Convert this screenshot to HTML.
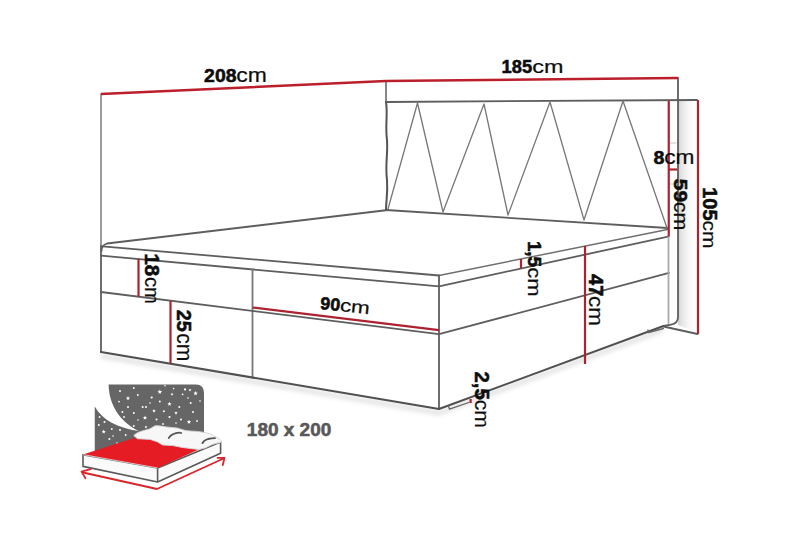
<!DOCTYPE html>
<html><head><meta charset="utf-8">
<style>
html,body{margin:0;padding:0;background:#fff;width:800px;height:533px;overflow:hidden}
svg{display:block}
text{font-family:"Liberation Sans",sans-serif;fill:#0d0d0d;color:#0d0d0d}
</style></head><body>
<svg width="800" height="533" viewBox="0 0 800 533">
<defs>
<linearGradient id="sh" x1="0" x2="1" y1="0" y2="0">
<stop offset="0" stop-color="#cfcfcf"/><stop offset="0.2" stop-color="#e4e4e4"/><stop offset="0.55" stop-color="#f6f6f6"/><stop offset="1" stop-color="#ffffff"/>
</linearGradient>
<filter id="blur" x="-10%" y="-50%" width="120%" height="200%"><feGaussianBlur stdDeviation="2"/></filter>
</defs>
<polygon points="678,101 696,101 696,332 678,325" fill="url(#sh)"/>
<g fill="none" stroke="#e4e4e4" stroke-width="5" filter="url(#blur)">
<polyline points="101,356 439,413 663,330"/>
</g>
<g fill="none" stroke="#5e5e5e" stroke-width="1.8" stroke-linejoin="round" stroke-linecap="round">
<polyline points="101,94 101,246" stroke="#7a7a7a" stroke-width="1.5"/>
<polyline points="101,246 101,352"/>
<polyline points="386,81 386,102" stroke="#6a6a6a" stroke-width="1.6"/>
<path d="M386,102 C388,115 385,125 387,140 C388,155 385,165 387,180 C388,195 386,200 386,210" stroke="#555" stroke-width="2"/>
<polyline points="386,102 697,100"/>
<path d="M678,78 L678,317 Q678,323.5 671,324.6 L663.5,326"/>
<polyline points="663.5,326.5 697.5,334"/>
<polyline points="386,210 667.5,228"/>
<polyline points="388,209 417.5,103 443,212 484,104 508,215 550,102 584,220 623,101 667,228" stroke-width="1.3" stroke="#777"/>
<path d="M101.5,251 Q101.5,245 107,243.5 L388,210"/>
<path d="M102.5,246.3 L439,275.5"/>
<polyline points="439,275.5 667.5,229.5" stroke="#707070" stroke-width="1.5"/>
<polyline points="101,255.7 439,286.3 668,236.6"/>
<polyline points="439,275.5 439,409"/>
<polyline points="252.5,269.5 252.5,377.5" stroke="#777"/>
<polyline points="101,292 439,334.2 669,272.9"/>
<polyline points="101,352 439,409 663.5,326" stroke="#505050" stroke-width="2"/>
<polyline points="668.5,237 668.5,323" stroke="#aaa"/>
<path d="M448.5,406 L449.5,409.2 L468.8,402.5" stroke="#666" stroke-width="1.3"/>
<path d="M648,330 L648.5,332.5 L663.5,328.5" stroke="#666" stroke-width="1.3"/>
<line x1="670" y1="143" x2="676" y2="143" stroke="#bbb" stroke-width="0.8"/>
<line x1="670" y1="184" x2="676" y2="184" stroke="#bbb" stroke-width="0.8"/>
</g>
<g fill="none" stroke="#ad2230" stroke-width="2.2">
<polyline points="101,94 386,81 678,78" stroke="#bb1f2b" stroke-width="2.4"/>
<line x1="138.5" y1="259" x2="138.5" y2="296.7"/>
<line x1="170.5" y1="301" x2="170.5" y2="363"/>
<line x1="252.5" y1="307.5" x2="439" y2="330.2"/>
<line x1="521" y1="259" x2="521" y2="268.5"/>
<line x1="585" y1="246" x2="585" y2="364"/>
<line x1="470.6" y1="399" x2="470.6" y2="403"/>
<line x1="668.75" y1="101" x2="668.75" y2="236.6"/>
<line x1="669" y1="169.5" x2="677" y2="169.5"/>
<line x1="698" y1="100" x2="698" y2="334"/>
</g>

<g id="icon">
<path d="M94.75,384.5 L196,384.5 Q204,384.5 204,393 L204,445 L94.75,455 Z" fill="#666"/>
<path d="M88,378 L108.6,378 L108.6,384.5 C109,405 120,422 138.7,431 C118,428 102,420 94.75,406.5 L88,406.5 Z" fill="#fff"/>
<g fill="#fff"><polygon points="159.80,389.40 160.43,390.93 162.08,391.06 160.83,392.13 161.21,393.74 159.80,392.88 158.39,393.74 158.77,392.13 157.52,391.06 159.17,390.93"/><polygon points="128.00,396.10 128.58,397.50 130.09,397.62 128.94,398.61 129.29,400.08 128.00,399.29 126.71,400.08 127.06,398.61 125.91,397.62 127.42,397.50"/><polygon points="195.60,391.10 196.21,392.56 197.79,392.69 196.58,393.72 196.95,395.26 195.60,394.44 194.25,395.26 194.62,393.72 193.41,392.69 194.99,392.56"/><polygon points="169.50,401.80 170.08,403.20 171.59,403.32 170.44,404.31 170.79,405.78 169.50,404.99 168.21,405.78 168.56,404.31 167.41,403.32 168.92,403.20"/><polygon points="145.00,415.50 145.61,416.96 147.19,417.09 145.98,418.12 146.35,419.66 145.00,418.84 143.65,419.66 144.02,418.12 142.81,417.09 144.39,416.96"/><polygon points="189.00,419.70 189.58,421.10 191.09,421.22 189.94,422.21 190.29,423.68 189.00,422.89 187.71,423.68 188.06,422.21 186.91,421.22 188.42,421.10"/><polygon points="154.00,409.10 154.50,410.31 155.81,410.41 154.81,411.26 155.12,412.54 154.00,411.86 152.88,412.54 153.19,411.26 152.19,410.41 153.50,410.31"/><polygon points="103.70,429.60 104.26,430.94 105.70,431.05 104.60,431.99 104.93,433.40 103.70,432.64 102.47,433.40 102.80,431.99 101.70,431.05 103.14,430.94"/><polygon points="176.00,411.20 176.48,412.34 177.71,412.44 176.77,413.25 177.06,414.46 176.00,413.81 174.94,414.46 175.23,413.25 174.29,412.44 175.52,412.34"/><polygon points="172.00,392.70 172.42,393.72 173.52,393.81 172.68,394.52 172.94,395.59 172.00,395.02 171.06,395.59 171.32,394.52 170.48,393.81 171.58,393.72"/><polygon points="146.00,425.40 146.42,426.42 147.52,426.51 146.68,427.22 146.94,428.29 146.00,427.72 145.06,428.29 145.32,427.22 144.48,426.51 145.58,426.42"/><polygon points="190.00,388.40 190.42,389.42 191.52,389.51 190.68,390.22 190.94,391.29 190.00,390.72 189.06,391.29 189.32,390.22 188.48,389.51 189.58,389.42"/><circle cx="120" cy="391" r="1"/><circle cx="133.8" cy="388" r="0.9"/><circle cx="137.8" cy="395" r="0.9"/><circle cx="151.7" cy="397.5" r="1.1"/><circle cx="173.6" cy="388.6" r="0.8"/><circle cx="185" cy="389.4" r="1.1"/><circle cx="182.6" cy="394.3" r="0.9"/><circle cx="119" cy="401.6" r="0.9"/><circle cx="128" cy="407" r="1"/><circle cx="142.7" cy="407" r="1"/><circle cx="146" cy="407" r="1"/><circle cx="159.8" cy="401.6" r="1"/><circle cx="179.3" cy="407" r="1"/><circle cx="190.7" cy="403" r="1"/><circle cx="122.4" cy="412" r="1"/><circle cx="133.8" cy="413" r="1"/><circle cx="163.9" cy="411.3" r="1"/><circle cx="193" cy="412" r="1"/><circle cx="124" cy="417" r="0.9"/><circle cx="156.5" cy="419.5" r="1"/><circle cx="169.5" cy="417" r="1.1"/><circle cx="181" cy="419.5" r="1"/><circle cx="197" cy="421" r="0.9"/><circle cx="99.6" cy="417" r="0.9"/><circle cx="104.5" cy="422" r="1"/><circle cx="111.8" cy="429" r="0.9"/><circle cx="120" cy="430" r="1"/><circle cx="125.7" cy="435" r="0.9"/><circle cx="109.4" cy="439" r="1"/><circle cx="98.8" cy="425" r="1"/><circle cx="133.8" cy="426" r="0.9"/><circle cx="113" cy="436" r="0.8"/><circle cx="150" cy="403" r="0.8"/><circle cx="188" cy="398" r="0.8"/><circle cx="165" cy="385.8" r="0.8"/><circle cx="200" cy="401" r="0.8"/><circle cx="176" cy="423" r="0.8"/><circle cx="163" cy="424" r="0.9"/><circle cx="138" cy="420" r="0.8"/><circle cx="117" cy="443" r="0.8"/></g>
<path d="M83,454.6 L157.6,468 L220.6,442 L220.6,453.3 L157.6,482 L83,466.4 Z" fill="#fafafa" stroke="#5a5a5a" stroke-width="1.6" stroke-linejoin="round"/>
<path d="M83,454.6 L134,438 L137.5,438.75 L150,439.4 L157.5,441.9 L162.5,445 L172.5,445.6 L182.5,447.5 L192.5,448.75 L198.75,449.4 L157.6,468 Z" fill="#e51c23"/>
<line x1="83" y1="454.6" x2="157.6" y2="468" stroke="#fff" stroke-width="0.7"/>
<line x1="157.6" y1="468.5" x2="157.6" y2="482" stroke="#5a5a5a" stroke-width="1.6"/>
<path d="M133.75,435.6 C136,433 139,432 141.25,431.25 C145,430 148,429.5 150,428.75 C152.5,427.5 154,425.8 156.25,425.6 C160,425.6 163,426.7 166.25,426.9 C170,427.4 174,427.6 177.5,428.1 C181,429 183,430.1 186.25,430.6 C189,431 192,431.1 195,431.25 C199,431.6 202,432 205,432.5 C208,433.2 210.5,434 212.5,435 C215.5,436.5 218,438 220,439.4 L221.9,441.9 L212.5,444.4 L205,448.1 L198.75,449.4 L192.5,448.75 L182.5,447.5 L172.5,445.6 L162.5,445 L157.5,441.9 L150,439.4 L137.5,438.75 Z" fill="#f7f7f7" stroke="#cfcfcf" stroke-width="0.9" stroke-linejoin="round"/>
<path d="M168.75,438.1 C170,436 173,434 176,433.2 C178,432.7 180,432.5 181.25,433" fill="none" stroke="#555" stroke-width="1.8" stroke-linecap="round"/>
<path d="M202.5,443.1 C203.5,441 205,439.8 208,439 C211,438.3 213,438 215,438.1" fill="none" stroke="#555" stroke-width="1.8" stroke-linecap="round"/>
<g fill="none" stroke="#d9252b" stroke-width="1.8" stroke-linecap="round" stroke-linejoin="round">
<polyline points="83,472.5 157,489 223.5,458.5"/>
<polyline points="90.6,469.2 81.5,471.6 85.5,478.2"/>
<polyline points="217.6,457.8 224.5,457.8 222.8,465"/>
</g>
</g>
<text transform="translate(204.80,82.25) scale(1.0347,1) translate(-0.66,0)" font-size="18.79" font-weight="bold" stroke="currentColor" stroke-width="0.55">208</text>
<text transform="translate(237.20,82.25) scale(1.1803,1) translate(-0.87,0)" font-size="19.44" font-weight="normal" stroke="currentColor" stroke-width="0.2">cm</text>
<text transform="translate(502.80,72.80) scale(0.9805,1) translate(-1.22,0)" font-size="18.71" font-weight="bold" stroke="currentColor" stroke-width="0.55">185</text>
<text transform="translate(533.40,72.80) scale(1.2552,1) translate(-0.84,0)" font-size="18.61" font-weight="normal" stroke="currentColor" stroke-width="0.2">cm</text>
<text transform="translate(654.00,164.40) scale(1.0213,1) translate(-0.58,0)" font-size="19.29" font-weight="bold" stroke="currentColor" stroke-width="0.55">8</text>
<text transform="translate(665.25,164.40) scale(1.1698,1) translate(-0.87,0)" font-size="19.44" font-weight="normal" stroke="currentColor" stroke-width="0.2">cm</text>
<text transform="translate(320.50,309.00) rotate(6) translate(0.00,0.00) scale(1.0172,1) translate(-0.62,0)" font-size="17.57" font-weight="bold" stroke="currentColor" stroke-width="0.55">90</text>
<text transform="translate(320.50,309.00) rotate(6) translate(20.00,0.00) scale(1.2679,1) translate(-0.80,0)" font-size="17.78" font-weight="normal" stroke="currentColor" stroke-width="0.2">cm</text>
<text transform="translate(144.60,254.80) rotate(90) scale(1.0548,1) translate(-1.26,0)" font-size="19.43" font-weight="bold" stroke="#0d0d0d" stroke-width="0.55">18</text>
<text transform="translate(144.60,277.90) rotate(90) scale(0.9675,1) translate(-0.94,0)" font-size="20.93" font-weight="normal" stroke="#0d0d0d" stroke-width="0.2">cm</text>
<text transform="translate(176.60,310.40) rotate(90) scale(0.9452,1) translate(-0.73,0)" font-size="20.86" font-weight="bold" stroke="#0d0d0d" stroke-width="0.55">25</text>
<text transform="translate(176.60,334.10) rotate(90) scale(0.9806,1) translate(-0.97,0)" font-size="21.48" font-weight="normal" stroke="#0d0d0d" stroke-width="0.2">cm</text>
<text transform="translate(527.80,242.10) rotate(90) scale(1.0264,1) translate(-1.19,0)" font-size="18.29" font-weight="bold" stroke="#0d0d0d" stroke-width="0.55">1,5</text>
<text transform="translate(527.80,268.20) rotate(90) scale(1.2104,1) translate(-0.82,0)" font-size="18.15" font-weight="normal" stroke="#0d0d0d" stroke-width="0.2">cm</text>
<text transform="translate(589.00,274.40) rotate(90) scale(0.9952,1) translate(-0.30,0)" font-size="20.00" font-weight="bold" stroke="#0d0d0d" stroke-width="0.55">47</text>
<text transform="translate(589.00,297.10) rotate(90) scale(1.0886,1) translate(-0.92,0)" font-size="20.56" font-weight="normal" stroke="#0d0d0d" stroke-width="0.2">cm</text>
<text transform="translate(475.00,372.20) rotate(90) scale(1.0082,1) translate(-0.71,0)" font-size="20.29" font-weight="bold" stroke="#0d0d0d" stroke-width="0.55">2,5</text>
<text transform="translate(475.00,400.70) rotate(90) scale(1.0328,1) translate(-0.92,0)" font-size="20.56" font-weight="normal" stroke="#0d0d0d" stroke-width="0.2">cm</text>
<text transform="translate(674.00,179.50) rotate(90) scale(1.1408,1) translate(-0.55,0)" font-size="18.29" font-weight="bold" stroke="#0d0d0d" stroke-width="0.55">59</text>
<text transform="translate(674.00,202.80) rotate(90) scale(1.1044,1) translate(-0.87,0)" font-size="19.44" font-weight="normal" stroke="#0d0d0d" stroke-width="0.2">cm</text>
<text transform="translate(703.30,188.50) rotate(90) scale(0.9859,1) translate(-1.32,0)" font-size="20.29" font-weight="bold" stroke="#0d0d0d" stroke-width="0.55">105</text>
<text transform="translate(703.30,221.50) rotate(90) scale(1.1066,1) translate(-0.85,0)" font-size="18.89" font-weight="normal" stroke="#0d0d0d" stroke-width="0.2">cm</text>
<text transform="translate(248.10,436.25) scale(1.0107,1) translate(-1.22,0)" font-size="18.79" font-weight="bold" style="fill:#585858;color:#585858" stroke="currentColor" stroke-width="0.55">180 x 200</text>
</svg>
</body></html>
